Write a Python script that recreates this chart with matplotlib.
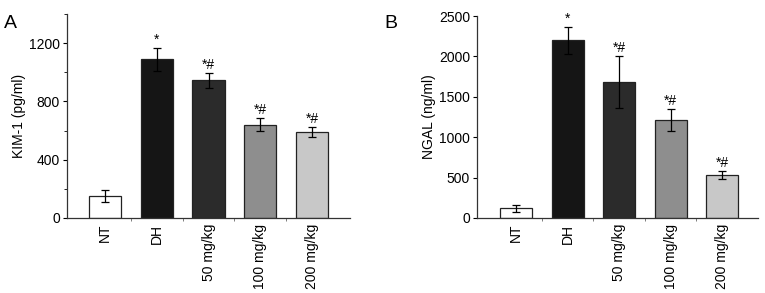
#Two bar charts with error bars, KIM-1 and NGAL levels per group
import matplotlib
matplotlib.use("Agg")
import matplotlib.pyplot as plt
from matplotlib.ticker import MultipleLocator, FixedLocator

plt.rcParams['font.family'] = ['Liberation Sans', 'DejaVu Sans']

groups = ["NT", "DH", "50 mg/kg", "100 mg/kg", "200 mg/kg"]
bar_colors = ["#ffffff", "#151515", "#2b2b2b", "#8e8e8e", "#c8c8c8"]

kim1 = [150, 1090, 945, 640, 590]
kim1_err = [40, 80, 50, 45, 35]
kim1_marks = ["", "*", "*#", "*#", "*#"]

ngal = [120, 2200, 1680, 1210, 530]
ngal_err = [45, 170, 320, 135, 50]
ngal_marks = ["", "*", "*#", "*#", "*#"]

fs = 10

fig = plt.figure(figsize=(7.65, 2.93), dpi=100)
ax1 = fig.add_axes([0.0876, 0.256, 0.37, 0.696])
ax2 = fig.add_axes([0.6235, 0.256, 0.3675, 0.689])

def draw(ax, vals, errs, marks, ylabel, ymax, xlim):
    x = range(len(groups))
    ax.bar(x, vals, width=0.62, color=bar_colors, edgecolor="#222222", linewidth=0.9)
    ax.errorbar(x, vals, yerr=errs, fmt="none", ecolor="black", elinewidth=0.9, capsize=3, capthick=0.9)
    for i in x:
        if marks[i]:
            ax.text(i, vals[i] + errs[i] + ymax * 0.005, marks[i], ha="center", va="bottom", fontsize=fs)
    ax.set_xlim(xlim)
    ax.set_ylim(0, ymax)
    ax.set_xticks(list(x))
    ax.set_xticklabels(groups, rotation=90, fontsize=fs)
    ax.xaxis.set_minor_locator(FixedLocator([0.5, 1.5, 2.5, 3.5]))
    ax.tick_params(axis="x", which="major", length=0, pad=4)
    ax.tick_params(axis="x", which="minor", length=2.5, width=0.6, color="#666666")
    ax.tick_params(axis="y", which="major", labelsize=fs, length=3, width=0.8, pad=2)
    ax.tick_params(axis="y", which="minor", length=2, width=0.6)
    ax.set_ylabel(ylabel, fontsize=fs, labelpad=2)
    ax.spines["top"].set_visible(False)
    ax.spines["right"].set_visible(False)
    for s in ["left", "bottom"]:
        ax.spines[s].set_linewidth(0.9)
        ax.spines[s].set_color("#333333")

draw(ax1, kim1, kim1_err, kim1_marks, "KIM-1 (pg/ml)", 1400, (-0.73, 4.73))
ax1.yaxis.set_major_locator(FixedLocator([0, 400, 800, 1200]))
ax1.yaxis.set_minor_locator(MultipleLocator(200))

draw(ax2, ngal, ngal_err, ngal_marks, "NGAL (ng/ml)", 2500, (-0.76, 4.70))
ax2.yaxis.set_major_locator(MultipleLocator(500))

fig.text(0.005, 0.905, "A", fontsize=14)
fig.text(0.503, 0.905, "B", fontsize=14)

fig.savefig("out.png", dpi=100)
